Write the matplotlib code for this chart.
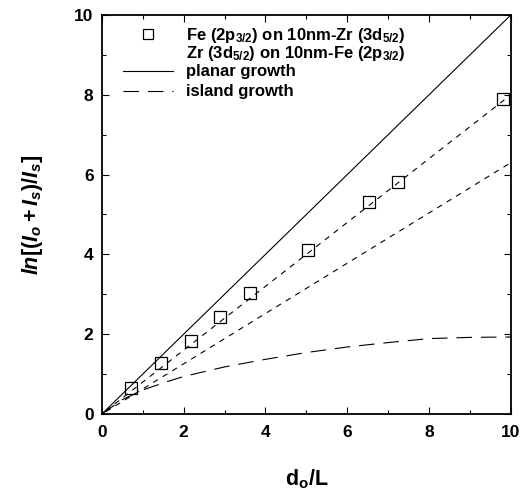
import matplotlib
matplotlib.use("Agg")
import matplotlib.pyplot as plt
from matplotlib.lines import Line2D

plt.rcParams['font.family'] = ['Liberation Sans', 'DejaVu Sans']
plt.rcParams['font.weight'] = 'bold'
plt.rcParams['mathtext.fontset'] = 'custom'
plt.rcParams['mathtext.rm'] = 'Liberation Sans:bold'
plt.rcParams['mathtext.it'] = 'Liberation Sans:italic:bold'
plt.rcParams['mathtext.bf'] = 'Liberation Sans:bold'

# measured points, Fe (2p3/2) on 10nm-Zr
fe_x = [0.71, 1.44, 2.18, 2.89, 3.63, 5.05, 6.54, 7.25, 9.81]
fe_y = [0.65, 1.29, 1.84, 2.44, 3.04, 4.12, 5.31, 5.81, 7.90]

# planar growth (solid)
planar_x = [0, 10]
planar_y = [0, 10]

# fitted straight lines (short dashes)
fit1_x = [0.1, 10]
fit1_y = [0.08, 8.0]
fit2_x = [0.1, 10]
fit2_y = [0.06, 6.3]

# island growth (long dashes)
island_x = [0, 0.5, 1, 1.5, 2, 3, 4, 5, 6, 7, 8, 9, 10]
island_y = [0, 0.36, 0.6, 0.78, 0.94, 1.18, 1.37, 1.54, 1.68, 1.79, 1.89, 1.92, 1.93]

fig = plt.figure(figsize=(5.25, 5.0), dpi=100)
ax = fig.add_axes([0.194, 0.172, 0.779, 0.798])

ax.plot(planar_x, planar_y, color='black', lw=0.8)
ax.plot(fit1_x, fit1_y, color='black', lw=0.8, dashes=(5, 5))
ax.plot(fit2_x, fit2_y, color='black', lw=0.8, dashes=(5, 5))
ax.plot(island_x, island_y, color='black', lw=0.8, dashes=(14, 8))
ax.plot(fe_x, fe_y, ls='none', marker='s', ms=8, mfc='none', mec='black', mew=0.9)

ax.set_xlim(0, 10)
ax.set_ylim(0, 10)
ax.set_xticks([0, 2, 4, 6, 8, 10])
ax.set_yticks([0, 2, 4, 6, 8, 10])
ax.set_xticks([1, 3, 5, 7, 9], minor=True)
ax.set_yticks([1, 3, 5, 7, 9], minor=True)
ax.tick_params(which='both', direction='in', top=True, right=True, labelsize=12.5, width=0.8)
ax.tick_params(which='major', length=5)
ax.tick_params(which='minor', length=3)
ax.tick_params(axis='x', pad=8)
ax.tick_params(axis='y', pad=6)
for lab in ax.get_xticklabels() + ax.get_yticklabels():
    lab.set_fontweight('bold')
for s in ax.spines.values():
    s.set_linewidth(1.3)

ax.set_xlabel(r'$\mathrm{d_o/L}$', fontsize=15.5, labelpad=20)
ax.set_ylabel(r'$ln[(I_o + I_s)/I_s]$', fontsize=15.5, labelpad=21)

# legend: sample entries (tight) and model curves
h1 = [
    Line2D([], [], ls='none', marker='s', ms=7, mfc='none', mec='black', mew=0.9),
    Line2D([], [], ls='none'),
]
l1 = [
    r'Fe (2p$_\mathrm{3/2}$) on 10nm-Zr (3d$_\mathrm{5/2}$)',
    r'Zr (3d$_\mathrm{5/2}$) on 10nm-Fe (2p$_\mathrm{3/2}$)',
]
h2 = [
    Line2D([], [], color='black', lw=0.8),
    Line2D([], [], color='black', lw=0.8, dashes=(14, 8)),
]
l2 = ['planar growth', 'island growth']

leg1 = ax.legend(h1, l1, loc='upper left', frameon=False, fontsize=12,
                 handlelength=3, handletextpad=0.8, labelspacing=-0.1,
                 borderaxespad=0, borderpad=0, bbox_to_anchor=(0.051, 0.972))
ax.add_artist(leg1)
ax.legend(h2, l2, loc='upper left', frameon=False, fontsize=12,
          handlelength=3, handletextpad=0.8, labelspacing=0.3,
          borderaxespad=0, borderpad=0, bbox_to_anchor=(0.051, 0.876))

fig.savefig('out.png', dpi=100)
